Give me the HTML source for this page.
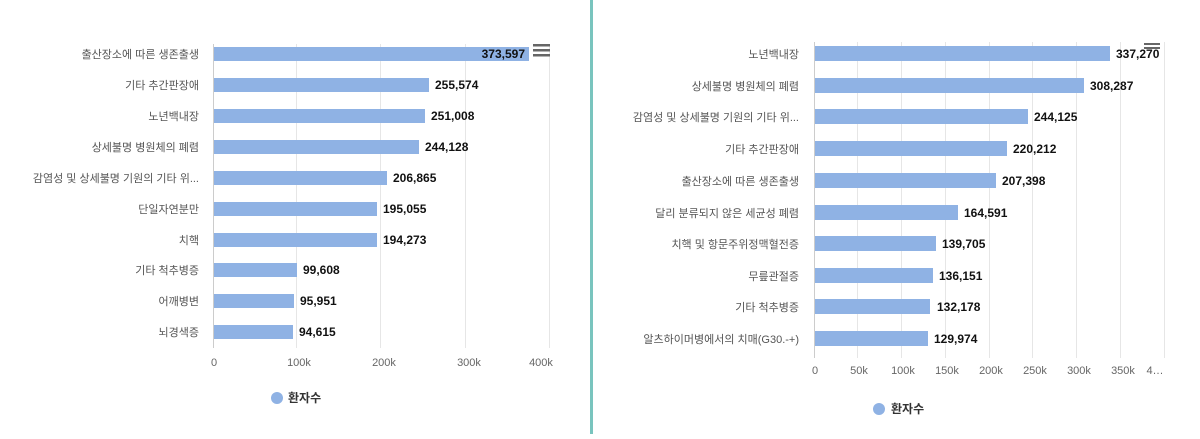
<!DOCTYPE html>
<html><head><meta charset="utf-8"><style>
body{margin:0;width:1200px;height:434px;background:#fff;overflow:hidden}
text{font-family:"Liberation Sans","Noto Sans CJK KR",sans-serif}
.c{fill:#555;font-size:11px;text-anchor:end}
.v{fill:#111;font-size:12px;font-weight:bold}
.t{fill:#666;font-size:11px;text-anchor:middle}
</style></head><body>
<svg width="1200" height="434" xmlns="http://www.w3.org/2000/svg">
<rect x="590" y="0" width="3" height="434" fill="#79c4be"/>
<!-- left chart -->
<g stroke="#e6e6e6" stroke-width="1">
<line x1="296.5" y1="44" x2="296.5" y2="348"/><line x1="380.5" y1="44" x2="380.5" y2="348"/>
<line x1="465.5" y1="44" x2="465.5" y2="348"/><line x1="549.5" y1="44" x2="549.5" y2="348"/>
</g>
<line x1="213.5" y1="44" x2="213.5" y2="348" stroke="#ccc"/>
<g fill="#8fb2e4">
<rect x="214" y="47" width="315" height="14"/>
<rect x="214" y="78" width="215" height="14"/>
<rect x="214" y="109" width="211" height="14"/>
<rect x="214" y="140" width="205" height="14"/>
<rect x="214" y="171" width="173" height="14"/>
<rect x="214" y="202" width="163" height="14"/>
<rect x="214" y="233" width="163" height="14"/>
<rect x="214" y="263" width="83" height="14"/>
<rect x="214" y="294" width="80" height="14"/>
<rect x="214" y="325" width="79" height="14"/>
</g>
<g class="c">
<text x="199" y="58">출산장소에 따른 생존출생</text>
<text x="199" y="89">기타 추간판장애</text>
<text x="199" y="120">노년백내장</text>
<text x="199" y="151">상세불명 병원체의 폐렴</text>
<text x="199" y="182">감염성 및 상세불명 기원의 기타 위...</text>
<text x="199" y="213">단일자연분만</text>
<text x="199" y="244">치핵</text>
<text x="199" y="274">기타 척추병증</text>
<text x="199" y="305">어깨병변</text>
<text x="199" y="336">뇌경색증</text>
</g>
<g class="v">
<text x="525" y="58" text-anchor="end">373,597</text>
<text x="435" y="89">255,574</text>
<text x="431" y="120">251,008</text>
<text x="425" y="151">244,128</text>
<text x="393" y="182">206,865</text>
<text x="383" y="213">195,055</text>
<text x="383" y="244">194,273</text>
<text x="303" y="274">99,608</text>
<text x="300" y="305">95,951</text>
<text x="299" y="336">94,615</text>
</g>
<g class="t">
<text x="214" y="366">0</text><text x="299" y="366">100k</text><text x="384" y="366">200k</text>
<text x="469" y="366">300k</text><text x="541" y="366">400k</text>
</g>
<g fill="#666"><rect x="533" y="44" width="17" height="2.5"/><rect x="533" y="49" width="17" height="2.5"/><rect x="533" y="54" width="17" height="2.5"/></g>
<circle cx="277" cy="398" r="6" fill="#8fb2e4"/>
<text x="288" y="402" style="font-size:12px;font-weight:bold;fill:#333">환자수</text>
<!-- right chart -->
<g stroke="#e6e6e6" stroke-width="1">
<line x1="857.5" y1="42" x2="857.5" y2="358"/><line x1="901.5" y1="42" x2="901.5" y2="358"/>
<line x1="945.5" y1="42" x2="945.5" y2="358"/><line x1="989.5" y1="42" x2="989.5" y2="358"/>
<line x1="1032.5" y1="42" x2="1032.5" y2="358"/><line x1="1076.5" y1="42" x2="1076.5" y2="358"/>
<line x1="1120.5" y1="42" x2="1120.5" y2="358"/><line x1="1164.5" y1="42" x2="1164.5" y2="358"/>
</g>
<line x1="814.5" y1="42" x2="814.5" y2="358" stroke="#ccc"/>
<g fill="#8fb2e4">
<rect x="815" y="46" width="295" height="15"/>
<rect x="815" y="78" width="269" height="15"/>
<rect x="815" y="109" width="213" height="15"/>
<rect x="815" y="141" width="192" height="15"/>
<rect x="815" y="173" width="181" height="15"/>
<rect x="815" y="205" width="143" height="15"/>
<rect x="815" y="236" width="121" height="15"/>
<rect x="815" y="268" width="118" height="15"/>
<rect x="815" y="299" width="115" height="15"/>
<rect x="815" y="331" width="113" height="15"/>
</g>
<g class="c">
<text x="799" y="58">노년백내장</text>
<text x="799" y="90">상세불명 병원체의 폐렴</text>
<text x="799" y="121">감염성 및 상세불명 기원의 기타 위...</text>
<text x="799" y="153">기타 추간판장애</text>
<text x="799" y="185">출산장소에 따른 생존출생</text>
<text x="799" y="217">달리 분류되지 않은 세균성 폐렴</text>
<text x="799" y="248">치핵 및 항문주위정맥혈전증</text>
<text x="799" y="280">무릎관절증</text>
<text x="799" y="311">기타 척추병증</text>
<text x="799" y="343">알츠하이머병에서의 치매(G30.-+)</text>
</g>
<g class="v">
<text x="1116" y="58">337,270</text>
<text x="1090" y="90">308,287</text>
<text x="1034" y="121">244,125</text>
<text x="1013" y="153">220,212</text>
<text x="1002" y="185">207,398</text>
<text x="964" y="217">164,591</text>
<text x="942" y="248">139,705</text>
<text x="939" y="280">136,151</text>
<text x="937" y="311">132,178</text>
<text x="934" y="343">129,974</text>
</g>
<g class="t">
<text x="815" y="374">0</text><text x="859" y="374">50k</text><text x="903" y="374">100k</text>
<text x="947" y="374">150k</text><text x="991" y="374">200k</text><text x="1035" y="374">250k</text>
<text x="1079" y="374">300k</text><text x="1123" y="374">350k</text><text x="1155" y="374">4…</text>
</g>
<g fill="#666"><rect x="1144" y="43" width="16" height="2"/><rect x="1144" y="47" width="16" height="2"/></g>
<circle cx="879" cy="409" r="6" fill="#8fb2e4"/>
<text x="891" y="413" style="font-size:12px;font-weight:bold;fill:#333">환자수</text>
</svg>
</body></html>
